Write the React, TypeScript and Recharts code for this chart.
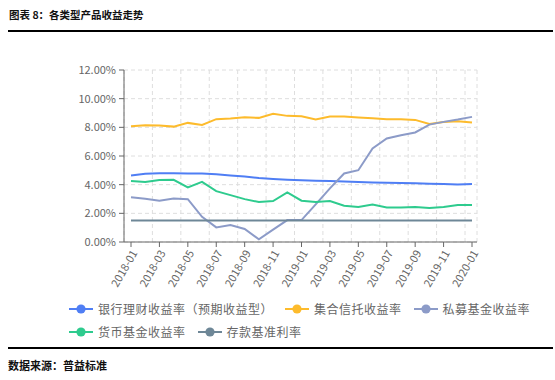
import { LineChart, Line, XAxis, YAxis, CartesianGrid } from "recharts";

// 月份
const months = [
  "2018-01", "2018-02", "2018-03", "2018-04", "2018-05", "2018-06", "2018-07",
  "2018-08", "2018-09", "2018-10", "2018-11", "2018-12", "2019-01", "2019-02",
  "2019-03", "2019-04", "2019-05", "2019-06", "2019-07", "2019-08", "2019-09",
  "2019-10", "2019-11", "2019-12", "2020-01",
];

// 收益率 (%)
const bankWealth = [4.64, 4.76, 4.8, 4.8, 4.78, 4.78, 4.73, 4.64, 4.57, 4.46, 4.39, 4.34, 4.3, 4.28, 4.25, 4.22, 4.18, 4.15, 4.13, 4.12, 4.1, 4.07, 4.04, 4.02, 4.04];
const trust = [8.08, 8.15, 8.12, 8.05, 8.31, 8.17, 8.57, 8.61, 8.7, 8.66, 8.94, 8.8, 8.77, 8.54, 8.75, 8.75, 8.68, 8.63, 8.57, 8.57, 8.52, 8.24, 8.38, 8.43, 8.33];
const privateFund = [3.13, 3.02, 2.88, 3.04, 2.99, 1.76, 1.02, 1.18, 0.91, 0.19, 0.86, 1.53, 1.53, 2.62, 3.74, 4.78, 5.01, 6.52, 7.22, 7.45, 7.64, 8.19, 8.38, 8.54, 8.73];
const moneyFund = [4.25, 4.18, 4.32, 4.34, 3.81, 4.2, 3.55, 3.27, 2.99, 2.79, 2.86, 3.46, 2.88, 2.79, 2.86, 2.53, 2.44, 2.62, 2.41, 2.41, 2.44, 2.37, 2.44, 2.58, 2.58];
const deposit = [1.5, 1.5, 1.5, 1.5, 1.5, 1.5, 1.5, 1.5, 1.5, 1.5, 1.5, 1.5, 1.5, 1.5, 1.5, 1.5, 1.5, 1.5, 1.5, 1.5, 1.5, 1.5, 1.5, 1.5, 1.5];

const yTicks = [0, 2, 4, 6, 8, 10, 12];

const series = [
  { key: "bank", name: "银行理财收益率（预期收益型）", color: "#4f7ef4", values: bankWealth },
  { key: "trust", name: "集合信托收益率", color: "#fdbb2c", values: trust },
  { key: "private", name: "私募基金收益率", color: "#8c9bc8", values: privateFund },
  { key: "money", name: "货币基金收益率", color: "#2ecb8e", values: moneyFund },
  { key: "deposit", name: "存款基准利率", color: "#6e8797", values: deposit },
];

const data = months.map((m, i) => {
  const row: any = { month: m };
  series.forEach((s) => (row[s.key] = s.values[i]));
  return row;
});

const FONT = '"Noto Sans CJK SC", "Noto Sans", sans-serif';

// 竖向网格线：每两个月一条，从绘图区左边开始
const verticalGrid = ({ offset }: any) => {
  const step = (offset.width - 12) / 24;
  const out: number[] = [];
  for (let k = 0; k <= 12; k++) out.push(offset.left + k * 2 * step);
  out.push(offset.left + offset.width);
  return out;
};

const LegendIcon = ({ color }: { color: string }) => (
  <svg width={24} height={12} style={{ display: "block" }}>
    <line x1={0} y1={6} x2={24} y2={6} stroke={color} strokeWidth={2} />
    <circle cx={12} cy={6} r={4.6} fill={color} />
  </svg>
);

export default function App() {
  return (
    <div style={{ position: "absolute", left: 0, top: 0, width: 555, height: 380, background: "#fff", fontFamily: FONT }}>
      <div style={{ position: "absolute", left: 9, top: 7, fontSize: 10.5, fontWeight: 700, color: "#111", lineHeight: "16px" }}>
        图表 8：各类型产品收益走势
      </div>
      <div style={{ position: "absolute", left: 8, top: 30, width: 545, height: 1.5, background: "#000" }} />

      <div style={{ position: "absolute", left: 0, top: 0 }}>
        <LineChart width={555} height={300} data={data} margin={{ top: 70, right: 78, left: 64, bottom: 0 }}>
          <CartesianGrid
            stroke="#dedede"
            strokeDasharray="4 3"
            verticalCoordinatesGenerator={verticalGrid}
          />
          <XAxis
            dataKey="month"
            interval={1}
            padding={{ left: 7, right: 5 }}
            height={58}
            angle={-60}
            textAnchor="end"
            tickSize={5}
            tickMargin={2}
            stroke="#666"
            tick={{ fontSize: 11, fill: "#666", fontFamily: FONT }}
          />
          <YAxis
            domain={[0, 12]}
            ticks={yTicks}
            width={60}
            tickSize={5}
            tickMargin={3}
            stroke="#666"
            tick={{ fontSize: 11, fill: "#666", fontFamily: FONT }}
            tickFormatter={(v) => v.toFixed(2) + "%"}
          />
          {series.map((s) => (
            <Line
              key={s.key}
              type="linear"
              dataKey={s.key}
              name={s.name}
              stroke={s.color}
              strokeWidth={2}
              dot={false}
              isAnimationActive={false}
            />
          ))}
        </LineChart>
      </div>

      <div style={{ position: "absolute", left: 69, top: 302, width: 480, display: "flex", flexWrap: "wrap", rowGap: 10, columnGap: 12 }}>
        {series.map((s) => (
          <div key={s.key} style={{ display: "flex", alignItems: "center", height: 13 }}>
            <LegendIcon color={s.color} />
            <span style={{ marginLeft: 5, fontSize: 12, letterSpacing: 0.5, color: "#666", lineHeight: "13px" }}>{s.name}</span>
          </div>
        ))}
      </div>

      <div style={{ position: "absolute", left: 8, top: 347, width: 545, height: 1.5, background: "#000" }} />
      <div style={{ position: "absolute", left: 8, top: 357, fontSize: 11, fontWeight: 700, color: "#111", lineHeight: "16px" }}>
        数据来源：普益标准
      </div>
    </div>
  );
}
